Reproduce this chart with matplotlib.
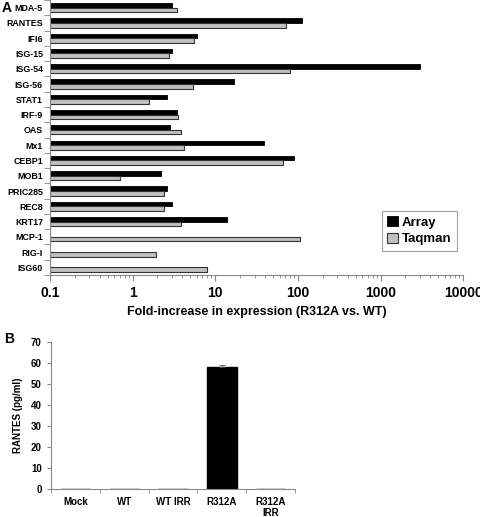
import matplotlib
matplotlib.use("Agg")
import matplotlib.pyplot as plt
import numpy as np

genes = ["MDA-5", "RANTES", "IFI6", "ISG-15", "ISG-54", "ISG-56", "STAT1", "IRF-9",
         "OAS", "Mx1", "CEBP1", "MOB1", "PRIC285", "REC8", "KRT17", "MCP-1", "RIG-I", "ISG60"]
array_vals = [2.9, 112, 6.0, 2.9, 3000, 17, 2.5, 3.3, 2.75, 39, 90, 2.1, 2.5, 2.9, 13.8,
              np.nan, np.nan, np.nan]
taqman_vals = [3.4, 72, 5.6, 2.75, 80, 5.4, 1.6, 3.5, 3.9, 4.2, 66, 0.70, 2.4, 2.4, 3.9,
               106, 1.9, 8.0]

b_cats = ["Mock", "WT", "WT IRR", "R312A", "R312A\nIRR"]
b_vals = [0.0, 0.0, 0.0, 58.0, 0.0]
b_err = [0.2, 0.2, 0.2, 1.0, 0.2]

plt.rcParams["font.family"] = ["Liberation Sans", "DejaVu Sans"]
fig = plt.figure(figsize=(4.8, 5.17), dpi=100)

spine_col = "#888888"

# Panel A
axA = fig.add_axes([0.104, 0.468, 0.861, 0.532])
y = np.arange(len(genes))
h = 0.3
axA.barh(y - h / 2, array_vals, height=h, left=0.1, color="black", edgecolor="black",
         linewidth=0.6, label="Array")
axA.barh(y + h / 2, [v - 0.1 for v in taqman_vals], height=h, left=0.1, color="#c0c0c0",
         edgecolor="#333333", linewidth=0.8, label="Taqman")
axA.set_xscale("log")
axA.set_xlim(0.1, 10000)
axA.set_ylim(len(genes) - 0.5, -0.5)
axA.set_yticks(y)
axA.set_yticklabels(genes, fontsize=6.4, fontweight="bold")
axA.set_yticks(np.arange(len(genes) + 1) - 0.5, minor=True)
axA.tick_params(axis="y", which="major", length=0, pad=5)
axA.tick_params(axis="y", which="minor", length=4, color=spine_col, direction="out")
axA.set_xticks([0.1, 1, 10, 100, 1000, 10000])
axA.set_xticklabels(["0.1", "1", "10", "100", "1000", "10000"], fontsize=10,
                    fontweight="bold")
axA.tick_params(axis="x", which="major", length=4, color=spine_col, pad=4)
axA.tick_params(axis="x", which="minor", length=2.5, color=spine_col)
for s in ["top", "right"]:
    axA.spines[s].set_visible(False)
for s in ["left", "bottom"]:
    axA.spines[s].set_color(spine_col)
axA.set_xlabel("Fold-increase in expression (R312A vs. WT)", fontsize=9,
               fontweight="bold", labelpad=4)
leg = axA.legend(loc="lower right", bbox_to_anchor=(1.0, 0.065),
                 prop={"weight": "bold", "size": 9.5}, frameon=True, fancybox=False,
                 handlelength=0.8, handleheight=0.8, handletextpad=0.3,
                 borderpad=0.4, labelspacing=0.3)
leg.get_frame().set_edgecolor("#888888")
leg.get_frame().set_linewidth(0.8)
fig.text(0.004, 0.999, "A", fontsize=10, fontweight="bold", va="top", ha="left")

# Panel B
axB = fig.add_axes([0.106, 0.054, 0.509, 0.284])
xb = np.arange(len(b_cats))
axB.bar(xb, b_vals, width=0.6, color="black", edgecolor="black")
axB.errorbar(xb, b_vals, yerr=[np.zeros(len(b_err)), b_err], fmt="none",
             ecolor="#555555", elinewidth=0.6, capsize=2, capthick=0.6)
axB.set_xlim(-0.5, len(b_cats) - 0.5)
axB.set_ylim(0, 70)
axB.set_yticks(np.arange(0, 71, 10))
axB.tick_params(axis="y", labelsize=7, length=3, color=spine_col)
for lab in axB.get_yticklabels():
    lab.set_fontweight("bold")
axB.set_xticks(xb)
axB.set_xticklabels(b_cats, fontsize=7, fontweight="bold", linespacing=1.1)
axB.tick_params(axis="x", which="major", length=0, pad=6)
axB.set_xticks(np.arange(len(b_cats) + 1) - 0.5, minor=True)
axB.tick_params(axis="x", which="minor", length=3, color=spine_col)
for s in ["top", "right"]:
    axB.spines[s].set_visible(False)
for s in ["left", "bottom"]:
    axB.spines[s].set_color(spine_col)
axB.set_ylabel("RANTES (pg/ml)", fontsize=7, fontweight="bold", labelpad=6)
fig.text(0.008, 0.345, "B", fontsize=10, fontweight="bold", va="center", ha="left")

fig.savefig("out.png", dpi=100)
